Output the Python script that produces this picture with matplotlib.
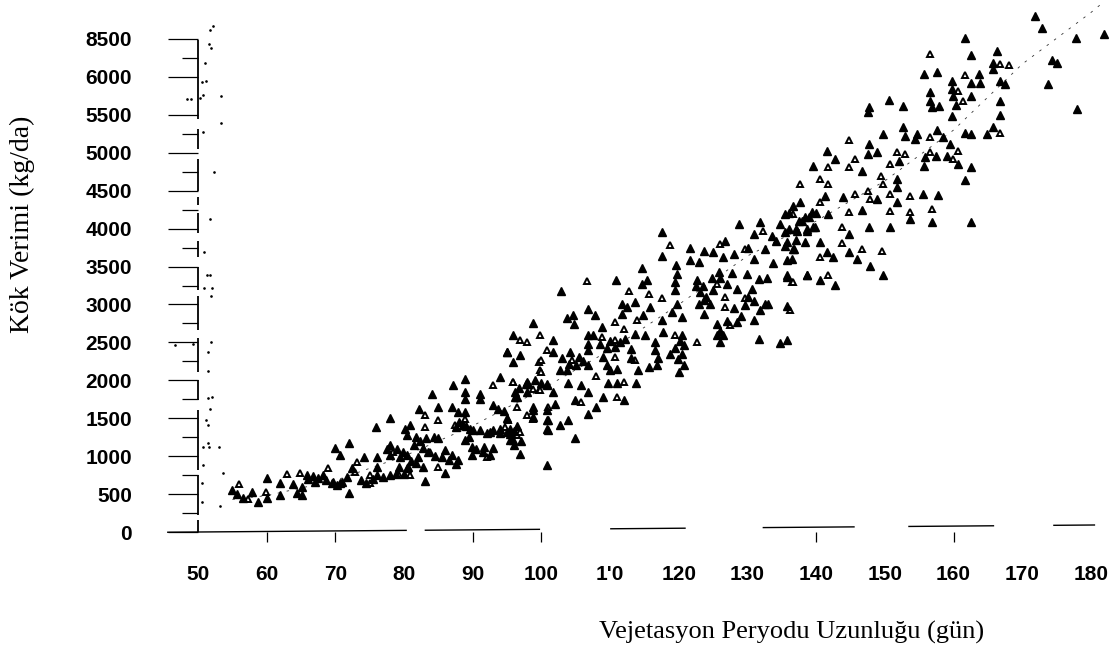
import matplotlib
matplotlib.use('Agg')
import matplotlib.pyplot as plt

# (days, yield), black triangles
filled_points = [
    (54.9, 553), (55.7, 500), (56.6, 443), (57.8, 531), (58.8, 400), (60, 706), (60, 443), (62, 640), (62, 487),
    (63.9, 632), (64.4, 509), (65.1, 487), (65.1, 597), (65.8, 750), (66.8, 737), (67, 662), (68.2, 750), (68.7, 684),
    (70, 1101), (70.7, 1014), (72, 1167), (69.7, 662), (70.7, 640), (72, 518), (71.7, 728), (72.4, 838), (74.1, 991),
    (73.8, 684), (76, 991), (76, 860), (76, 750), (75.9, 1378), (78, 1509), (78, 1145), (78, 1014), (79.4, 991),
    (80.4, 1014), (78, 750), (79.2, 860), (80.4, 838), (81.8, 904), (82.8, 860), (83, 676), (80.1, 1364), (80.9, 1408),
    (80.4, 1277), (81.8, 1255), (82.1, 1628), (84, 1825), (85, 1650), (82.8, 1101), (84.3, 1255), (85, 1233), (86, 1079),
    (86, 772), (87, 1014), (87.9, 948), (87.1, 1935), (88.9, 2022), (88.9, 1847), (88.9, 1759), (91, 1825), (91, 1759),
    (87, 1650), (87.9, 1584), (88.9, 1584), (88.6, 1408), (89.6, 1364), (88.9, 1211), (89.9, 1123), (89.9, 1014),
    (91.6, 1123), (93, 1101), (92, 1299), (93, 1343), (94, 1364), (93, 1672), (93.7, 1628), (93.9, 2044), (95, 2373),
    (96.9, 2330), (95.9, 2242), (97.9, 1979), (96.4, 1781), (95.4, 1364), (95.4, 1211), (96.9, 1027), (100.8, 882),
    (98.8, 1606), (100.8, 1606), (100.8, 1474), (100.8, 1364), (100.8, 1935), (97.9, 1847),
    (117.6, 3952), (117.6, 3645), (121.6, 3746), (123.6, 3711), (125, 3689), (126.7, 3843), (119.6, 3514), (121.6, 3588),
    (123, 3558), (126.5, 3623), (128, 3667), (128.7, 4062), (131.8, 4084), (130.9, 3931), (132.5, 3733), (134.2, 3843),
    (134.7, 4062), (135.7, 3821), (136.7, 3733), (135.7, 3580), (133.7, 3544), (137.2, 3974), (138.6, 3996), (138.4, 3821),
    (139.8, 4018), (114.7, 3479), (110.8, 3316), (102.8, 3176), (115.3, 3316), (114.6, 3272), (119.4, 3294), (119.4, 3185),
    (119.7, 3404), (115.8, 2965), (111.7, 3009), (112.4, 2965), (113.6, 3031), (111.7, 2878), (114.8, 2856), (117.6, 2790),
    (106.8, 2943), (107.8, 2856), (104.6, 2856), (103.7, 2825), (104.7, 2746), (98.8, 2755), (95.8, 2593), (101.7, 2527),
    (95, 2373), (106.8, 2593), (106.8, 2483), (106.8, 2395), (108.8, 2702), (110.7, 2439), (112.2, 2549), (113.6, 2614),
    (115.1, 2593), (116.5, 2505), (116.5, 2395), (113.1, 2417), (114.1, 2132), (115.6, 2176), (116.8, 2198), (118.7, 2351),
    (120.7, 2461), (120.4, 2593), (119.9, 2285), (120.7, 2198), (120, 2110), (117.7, 2636), (125.5, 2746), (128.4, 2768),
    (125.5, 2593), (126.5, 2593), (131.6, 2549), (134.7, 2492), (135.7, 2535), (130.9, 2790), (131.8, 2921), (132.5, 3009),
    (135.7, 2974), (129.6, 2987), (123.6, 2878), (123.6, 3053), (123.1, 3163), (125, 3185), (127, 3272), (122.6, 3325),
    (125.8, 3426), (127.7, 3413), (129.9, 3404), (131.6, 3338), (132.8, 3351), (130.7, 3207), (135.7, 3360), (138.6, 3382),
    (119.7, 3009), (119, 2900), (120.4, 2834), (101.7, 2373), (104.2, 2373), (105.4, 2307), (106.8, 2198), (103.7, 2132),
    (102.7, 2132), (109.5, 2198), (110, 2132), (111, 2154), (109, 2307), (109.7, 1965), (111, 1965), (113.8, 1965),
    (103.9, 1965), (105.8, 1934), (106.8, 1847), (109, 1781), (112, 1737), (104.9, 1737), (108, 1649), (106.8, 1562),
    (103.9, 1483), (104.9, 1233), (102, 1693), (97.8, 1956), (100.8, 1956), (101.7, 1847), (96.1, 1781), (98.8, 1649),
    (98.8, 1518), (101, 1474), (101, 1342), (102.7, 1408), (95.4, 1298), (95.9, 1210),
    (171.8, 6804), (172.8, 6650), (177.8, 6510), (181.9, 6571), (161.6, 6510), (162.5, 6290), (166.3, 6343), (165.8, 6189),
    (165.8, 6102), (166.7, 5948), (167.5, 5904), (174.3, 6220), (175, 6189), (173.8, 5904), (177.9, 5575), (155.7, 6045),
    (157.6, 6071), (163.7, 6045), (162.6, 5926), (163.8, 5926), (159.7, 5948), (159.7, 5838), (159.9, 5751), (162.6, 5751),
    (160.4, 5632), (166.7, 5685), (166.7, 5496), (156.6, 5795), (156.6, 5685), (156.8, 5597), (157.8, 5619), (150.6, 5698),
    (152.6, 5619), (147.7, 5597), (147.6, 5531), (159.7, 5479), (149.7, 5246), (152.7, 5334), (152.9, 5224), (154.6, 5246),
    (154.4, 5180), (157.6, 5299), (158.5, 5202), (161.6, 5255), (162.6, 5246), (164.8, 5246), (165.8, 5343), (159.5, 5115),
    (159, 4961), (157.5, 4961), (155.8, 4939), (155.7, 4829), (160.7, 4851), (162.6, 4816), (161.7, 4641), (147.7, 5115),
    (147.6, 4983), (148.8, 5005), (152, 4895), (141.5, 5027), (142.7, 4917), (139.6, 4821), (146.6, 4755), (151.7, 4654),
    (151.7, 4544), (143.9, 4413), (148.8, 4391), (155.6, 4456), (157.7, 4448), (141.3, 4435), (136.6, 4303), (137.6, 4347),
    (139.4, 4215), (141.7, 4193), (135.4, 4193), (138.3, 4150), (146.6, 4246), (151.7, 4347), (153.6, 4128), (156.8, 4084),
    (162.6, 4092), (147.7, 4027), (150.8, 4018), (144.7, 3930), (137.1, 3996), (138.6, 3974), (139.6, 4018), (140.6, 3820),
    (136.6, 3733), (135.4, 3777), (136.4, 3601), (144.7, 3689), (145.9, 3601), (142.5, 3623), (141.5, 3689), (147.8, 3505),
    (149.7, 3390), (135.7, 3382), (138.6, 3382), (140.5, 3316), (142.7, 3263),
]

# black triangles packed into the dense clumps
clump_points = [
    (66, 700), (67.5, 715), (69.5, 640), (70.2, 620), (71, 660), (74.5, 640), (75.5, 700), (77, 720), (78.8, 760),
    (80, 770), (80.5, 860), (81, 930), (82, 990), (83.5, 1050), (84.5, 1000), (85.5, 990), (86.5, 950), (87.5, 900),
    (77.5, 1100), (79, 1100), (79.8, 1060), (81.5, 1150), (82.3, 1200), (83.2, 1240), (87.5, 1380), (88, 1450),
    (89, 1400), (90, 1340), (91, 1350), (92.5, 1320), (94, 1310), (95, 1320), (96, 1330), (96.5, 1400), (95, 1500),
    (94.5, 1600), (96.2, 1850), (96.8, 1900), (98, 1950), (99, 2000), (100, 1960), (96, 1150), (97, 1200), (89.5, 1250),
    (90.5, 1100), (91.5, 1050), (92.5, 1020),
    (123.5, 3250), (124, 3100), (124.5, 3000), (123, 3000), (122.5, 3250), (124.8, 3350), (126, 3350), (128.5, 3200),
    (130, 3100), (131, 3050), (133, 3000), (128, 2950), (129, 2850), (127, 2780), (126, 2650), (126, 2500), (120.5, 2350),
    (120.2, 2520), (119.5, 2420), (117, 2300), (113, 2300), (111.5, 2500), (110, 2520), (109.5, 2430), (108.5, 2480),
    (107.5, 2600), (106, 2250), (105, 2200), (104, 2220), (103, 2300), (130, 3750), (131, 3600), (133.5, 3900),
    (135.5, 3950), (137, 3850), (136, 4000), (138, 4100), (136, 4200), (137.5, 4100), (139, 4150), (140, 4200),
]

# (days, yield), open triangles
open_points = [
    (55.9, 632), (57.3, 430), (59.9, 531), (62.9, 759), (64.9, 772), (68.9, 838), (73.1, 926), (72.9, 794), (75, 640),
    (75, 750), (78.4, 1057), (79.2, 750), (80.9, 750), (83, 1540), (83, 1386), (85, 1474), (83.8, 1057), (85, 860),
    (87.4, 1408), (88.9, 1496), (92, 991), (93, 1935), (95.9, 1979), (96.4, 1650), (95.2, 1474), (96.4, 1277),
    (97.9, 1540), (98.8, 1496), (99.6, 1869), (99.6, 2242), (99.8, 2132), (100.8, 2395),
    (118.7, 3790), (126, 3799), (129.6, 3733), (132.3, 3974), (106.7, 3303), (112.7, 3176), (115.7, 3141), (117.6, 3088),
    (113.9, 2790), (99.8, 2601), (96.9, 2535), (97.9, 2505), (110.7, 2768), (112, 2680), (108.8, 2570), (110.7, 2527),
    (110.7, 2307), (113.6, 2263), (119.4, 2593), (122.6, 2505), (127.5, 2724), (136.2, 2930), (129.6, 3088), (126.7, 2965),
    (126.7, 3097), (125.5, 3272), (136.4, 3294), (100, 2263), (100, 2110), (104.4, 2263), (108, 2053), (112, 1978),
    (111, 1781), (105.8, 1715), (95.9, 1978), (98.8, 1890), (99.8, 1869), (101, 1649), (94.7, 1386), (96.9, 1320),
    (156.6, 6299), (166.7, 6167), (168, 6159), (161.6, 6027), (160.7, 5816), (161.4, 5685), (144.7, 5172), (156.5, 5202),
    (166.7, 5255), (160.7, 5027), (159.9, 4917), (156.5, 5005), (145.6, 4917), (151.7, 5005), (152.9, 4983), (150.7, 4851),
    (141.7, 4808), (144.7, 4808), (137.6, 4588), (140.5, 4654), (141.7, 4588), (149.5, 4698), (149.7, 4588), (150.7, 4456),
    (145.6, 4456), (147.6, 4500), (147.8, 4391), (153.6, 4435), (140.5, 4347), (136.6, 4193), (144.7, 4215), (150.7, 4237),
    (153.6, 4215), (156.8, 4259), (143.7, 4018), (143.7, 3807), (146.7, 3733), (149.6, 3711), (140.5, 3623), (136.6, 3294),
    (141.7, 3382),
]

# fitted curve, survives only in fragments on the scan
curve_days = [55, 60, 70, 80, 90, 100, 110, 120, 130, 140, 150, 160, 170, 180, 182]
curve_yield = [430, 480, 680, 1000, 1400, 1880, 2400, 3000, 3640, 4100, 4630, 5300, 6170, 6850, 7000]

# scanner specks along the y axis
speck_points = [
    (52.2, 6672), (51.7, 6619), (51.6, 6435), (51.9, 6383), (51, 6185), (51.2, 5948), (50.6, 5935), (50.7, 5764),
    (50.3, 5725), (53.3, 5751), (48.4, 5711), (49, 5711), (53.3, 5396), (50.7, 5277), (52.3, 4751), (51.7, 4132),
    (50.9, 3698), (51.3, 3395), (51.7, 3395), (52, 3211), (50.9, 3211), (51.9, 3106), (51.9, 2500), (51.5, 2369),
    (51.5, 2119), (51.5, 1763), (52, 1777), (51.7, 1619), (51.2, 1474), (51.5, 1408), (50.7, 1119), (51.6, 1119),
    (53.1, 1119), (51.5, 1171), (50.7, 882), (53.6, 776), (50.6, 645), (50.6, 395), (53.2, 342), (46.7, 2461), (49.3, 2474),
]

x_ticks = list(range(50, 190, 10))
x_labels = ['50', '60', '70', '80', '90', '100', "1'0", '120', '130', '140', '150', '160', '170', '180']
x_drawn_ticks = [60, 70, 90, 100, 140, 160]
y_ticks = list(range(0, 7000, 500))
y_labels = ['0', '500', '1000', '1500', '2000', '2500', '3000', '3500', '4000', '4500', '5000', '5500', '6000', '8500']
y_minor_ticks = [250, 750, 1250, 1750, 2250, 2750, 3250, 3750, 4250, 4750, 5250, 6250]

# unbroken stretches of the axis lines on the scan
x_axis_parts = [(45.5, 80.4), (83, 99.8), (110, 121), (132.2, 145.6), (153.4, 165.9), (174.5, 180.6)]
y_axis_parts = [(0, 158), (224, 750), (816, 1606), (1737, 2000), (2106, 2553), (2658, 3106), (3185, 3500),
                (3632, 3843), (3948, 4211), (4316, 4422), (4501, 4922), (5053, 5317), (5448, 6488)]
x_axis_tilt = 92 / 130

plt.rcParams['font.family'] = ['Liberation Sans', 'DejaVu Sans']

fig = plt.figure(figsize=(11.12, 6.54), dpi=100)
ax = fig.add_axes([198 / 1112, 122 / 654, 893 / 1112, 493 / 654])
ax.set_xlim(50, 180)
ax.set_ylim(0, 6500)
for spine in ax.spines.values():
    spine.set_visible(False)

ax.plot(curve_days, curve_yield, color='#333333', linewidth=0.6, linestyle=(0, (3, 8)), clip_on=False, zorder=1)

ax.plot(*zip(*speck_points), linestyle='none', marker='.', markersize=1.8, color='black', clip_on=False)
ax.plot(*zip(*open_points), linestyle='none', marker='^', markersize=5, markerfacecolor='white',
        markeredgecolor='black', markeredgewidth=1.4, clip_on=False, zorder=2)
ax.plot(*zip(*filled_points), linestyle='none', marker='^', markersize=5.5, color='black', clip_on=False, zorder=3)
ax.plot(*zip(*clump_points), linestyle='none', marker='^', markersize=5.5, color='black', clip_on=False, zorder=3)

for start, end in x_axis_parts:
    ax.plot([start, end], [(start - 50) * x_axis_tilt, (end - 50) * x_axis_tilt], color='black', linewidth=1,
            clip_on=False, solid_capstyle='butt')
for start, end in y_axis_parts:
    ax.plot([50, 50], [start, end], color='black', linewidth=1.3, clip_on=False, solid_capstyle='butt')

ax.set_xticks(x_ticks, x_labels, fontweight='bold')
ax.set_yticks(y_ticks, y_labels, fontweight='bold')
ax.set_yticks(y_minor_ticks, minor=True)
ax.tick_params(axis='x', length=7, width=0.9, pad=17, labelsize=15)
ax.tick_params(axis='y', which='major', length=21.5, width=0.9, pad=26, labelsize=15)
ax.tick_params(axis='y', which='minor', length=11.5, width=0.9)
for value, tick in zip(x_ticks, ax.xaxis.get_major_ticks()):
    if value not in x_drawn_ticks:
        tick.tick1line.set_visible(False)

fig.text(22 / 1112, 1 - 224 / 654, 'Kök Verimi (kg/da)', rotation=90, ha='center', va='center',
         family='Liberation Serif', fontsize=20)
fig.text(792 / 1112, 1 - 632 / 654, 'Vejetasyon Peryodu Uzunluğu (gün)', ha='center', va='center',
         family='Liberation Serif', fontsize=19)

fig.savefig('out.png', dpi=100)
